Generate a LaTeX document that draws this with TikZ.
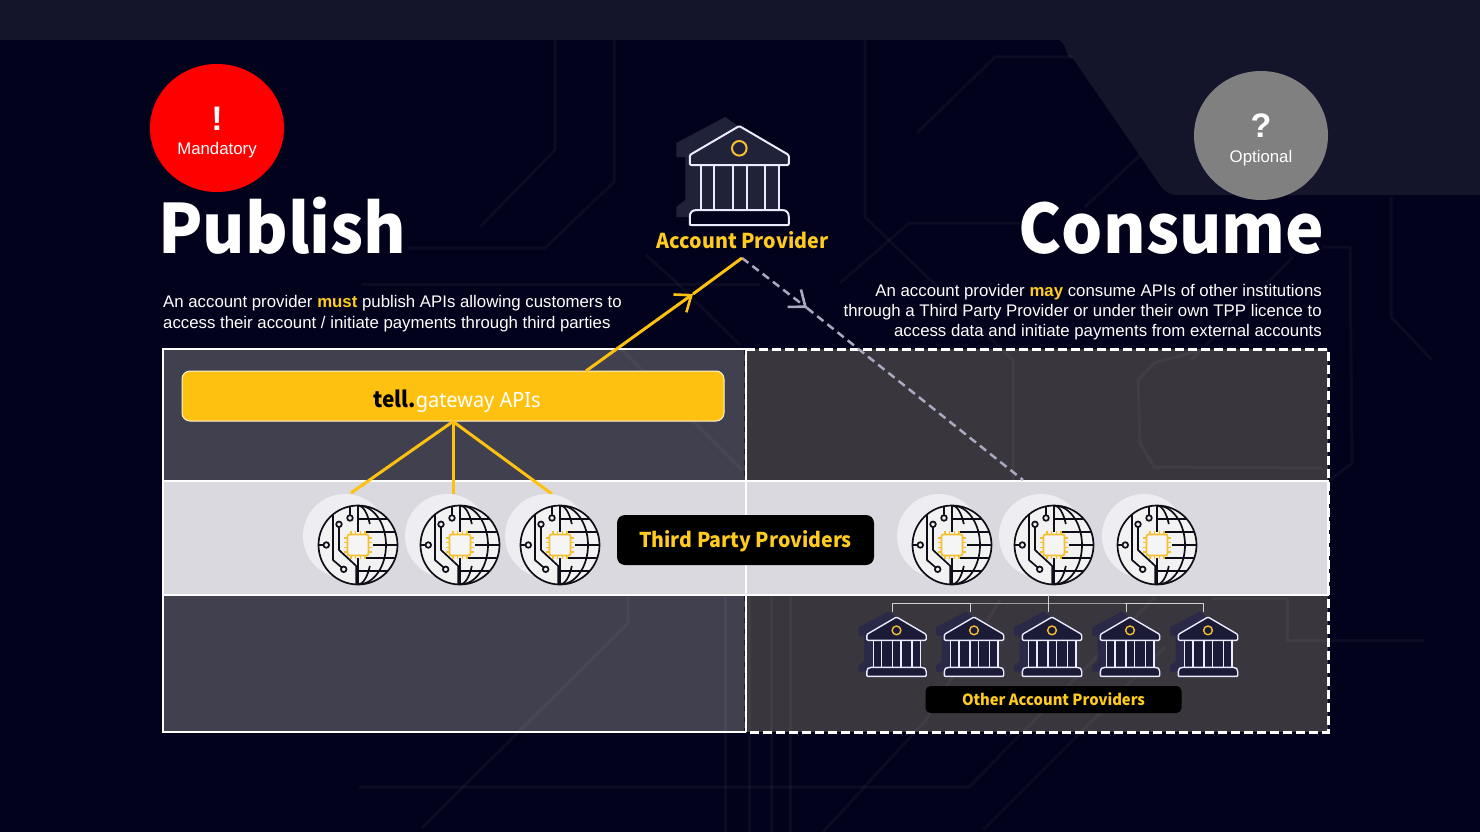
\documentclass[tikz,border=0pt]{standalone}
\usepackage{graphicx}
\usepackage{fontspec}
\setmainfont{Liberation Sans}
\newfontfamily\headfont{Noto Sans CJK JP}
\newfontfamily\brandfont{Noto Sans}
\usetikzlibrary{arrows.meta,calc,shapes.geometric}
\definecolor{bgc}{HTML}{02021C}
\definecolor{bandtop}{HTML}{14152A}
\definecolor{panelL}{HTML}{40404F}
\definecolor{panelR}{HTML}{3A363D}
\definecolor{strip}{HTML}{DAD9DF}
\definecolor{gold}{HTML}{FFC110}
\definecolor{goldtxt}{HTML}{FFCB1F}
\definecolor{dashgrey}{HTML}{A9A9C0}
\definecolor{bankshade}{HTML}{20223A}
\definecolor{bankshadeb}{HTML}{2A2A48}
\definecolor{bankfillb}{HTML}{1B1B38}
\definecolor{inkc}{HTML}{0E0E18}
\definecolor{chipc}{HTML}{F5C02E}
\definecolor{halo}{HTML}{EEEEF2}
\definecolor{panelrule}{HTML}{16162A}
\tikzset{
  trace/.style={draw=white,opacity=.04,line width=3,line join=round},
  goldline/.style={draw=gold,line width=3},
  dashline/.style={draw=dashgrey,line width=2.5,dash pattern=on 8pt off 5pt},
  barb/.style={-{Straight Barb[length=14pt,width=22pt,line width=2.6pt]}},
  badge/.style={ellipse,inner sep=0,text=white},
  lab/.style={inner sep=0,anchor=base,text=white},
  linew/.style={inner sep=0,anchor=base west,text=white},
  linee/.style={inner sep=0,anchor=base east,text=white},
  darkbox/.style={fill=black,rounded corners=8pt,inner sep=0,text=goldtxt},
  orgline/.style={draw=white!82!black,line width=1},
  ink/.style={draw=inkc,line width=1.7},
}
\newcommand{\bankicon}[7]{% x, y(apex), scale, width, shade, roof fill, base fill
  \begin{scope}[shift={(#1,#2)},scale=#3]
    \fill[#5] (-14,-9) -- (-63,17) -- (-63,31) -- (-54,31) -- (-54,74) -- (-63,81) -- (-63,91) -- (36,91) -- (36,27) -- cycle;
    \begin{scope}[draw=white!92!blue,line width=#4,line join=round]
      \fill[#6] (-39,39) rectangle (39.7,84);
      \filldraw[fill=#6,rounded corners=1.2] (-49.5,39) -- (-49.5,29) -- (0,0) -- (49.5,29) -- (49.5,39) -- cycle;
      \foreach \cx in {-38.7,-25.3,-6.7,7.3,26,39.7}{\draw (\cx,39) -- (\cx,84);}
      \filldraw[fill=#7] (-49.5,97.5) .. controls (-49.5,99) and (-49.5,99) .. (-48,99) -- (48,99) .. controls (49.5,99) and (49.5,99) .. (49.5,97.5) -- (49.5,91) .. controls (49.5,86) and (47,84) .. (42,84) -- (-42,84) .. controls (-47,84) and (-49.5,86) .. (-49.5,91) -- cycle;
      \draw[chipc] (0,22.3) circle (7.3);
    \end{scope}
  \end{scope}}
\newcommand{\globeicon}[2]{%
  \begin{scope}[shift={(#1,#2)}]
    \fill[halo] (-13,-9) circle (42);
    \fill[black!5] (0,0) circle (39.5);
    \begin{scope}
      \clip (0,0) circle (39.5);
      \draw[ink] (0,-39) -- (0,-13) (0,13) -- (0,39);
      \draw[ink] (0,-39.5) arc[start angle=-90,end angle=-32,x radius=14,y radius=39.5];
      \draw[ink] (0,39.5) arc[start angle=90,end angle=32,x radius=14,y radius=39.5];
      \draw[ink] (0,-39.5) arc[start angle=-90,end angle=90,x radius=28,y radius=39.5];
      \draw[ink] (0,-25.7) -- (36,-25.7) (8,-13) -- (39,-13) (15,0) -- (40,0) (8,13) -- (39,13) (0,25.7) -- (36,25.7);
      \draw[ink] (-39.5,0) -- (-34.5,0);
      \draw[ink] (-8,-39) -- (-8,-30);
      \draw[ink,line join=round] (-25,-30) -- (-25,15) -- (-16.2,22.6);
      \draw[ink,line join=round] (-19,-18) -- (-19,5) -- (-1.7,21) -- (-1.7,39);
    \end{scope}
    \draw[ink] (-31.7,0) circle (2.8) (-8,-27) circle (2.8) (-19,-20.7) circle (2.8) (-14.3,24.3) circle (2.8);
    \draw[ink] (0,0) circle (39.5);
    \draw[chipc,line width=1.2] \foreach \pp in {-7,-2.4,2.4,7}{(\pp,-14) -- (\pp,-10) (\pp,10) -- (\pp,14) (-14,\pp) -- (-10,\pp) (10,\pp) -- (14,\pp)};
    \filldraw[draw=chipc,fill=white!96!black,line width=1.8,rounded corners=2] (-10.5,-10.5) rectangle (10.5,10.5);
  \end{scope}}
\begin{document}
\begin{tikzpicture}[x=1pt,y=-1pt]
\useasboundingbox (0,0) rectangle (1480,832);
\fill[bgc] (0,0) rectangle (1480,832);
\fill[bandtop] (0,0) -- (1480,0) -- (1480,195) -- (1177,195) to[out=180,in=-55] (1160,185) -- (1072,57) to[out=-125,in=0] (1058,40) -- (0,40) -- cycle;

% panels
\fill[panelL] (163,349) rectangle (746,732);
\fill[panelR] (746,349) rectangle (1328,732);
\filldraw[fill=strip,draw=white!92!strip,line width=2] (163,481) rectangle (1328,595);

% background circuit traces
\draw[trace] (555,40) -- (555,150) -- (480,227);
\draw[trace] (614,40) -- (614,182) -- (545,248) -- (408,248);
\draw[trace] (362,284) -- (677,284) -- (760,284);
\draw[trace] (646,255) -- (677,283) -- (740,345);
\draw[trace] (622,350) -- (742,470);
\draw[trace] (865,40) -- (865,217) -- (1013,360) -- (1013,480);
\draw[trace] (917,133) -- (995,57) -- (1073,57);
\draw[trace] (840,283) -- (909,223) -- (1020,223);
\draw[trace] (1085,207) -- (1140,155);
\draw[trace] (1322,247) -- (1350,247) -- (1352,463) -- (1330,480);
\draw[trace] (1391,197) -- (1391,317) -- (1432,360);
\draw[trace] (1293,257) -- (1191,360);
\draw[trace] (1201,350) -- (1154,363) -- (1138,380) -- (1140,443) -- (1154,467) -- (1322,468);
\draw[trace] (359,787) -- (969,787) -- (1155,597);
\draw[trace] (823,832) -- (926,720) -- (1000,600);
\draw[trace] (983,830) -- (1080,733) -- (1165,647);
\draw[trace] (1212,598) -- (1287,598) -- (1287,640) -- (1424,640);
\draw[trace] (628,595) -- (628,623) -- (422,828);
\draw[trace] (725,595) -- (725,832);
\draw[trace] (749,595) -- (749,832);
\draw[trace] (771,595) -- (771,832);
\draw[trace] (790,595) -- (790,832);

% panel borders
\draw[white,line width=2.5] (746,349) -- (163,349) -- (163,732) -- (746,732);
\draw[white,line width=2.5] (746,349) -- (746,732);
\draw[panelrule,line width=1,dash pattern=on 5pt off 6pt] (744.3,350) -- (744.3,480) (744.3,596) -- (744.3,731);
\draw[white,line width=3,dash pattern=on 9pt off 4pt] (746,349) -- (1328,349) -- (1328,732) -- (746,732);
\draw[white!92!strip,line width=2] (163,481) -- (1328,481) (163,595) -- (1328,595) (1328,481) -- (1328,595);

% gateway
\node[draw=white!85!gold,fill=gold,rounded corners=8pt,line width=1,minimum width=542,minimum height=50,inner sep=0] (gateway) at (453,396) {};
\node[lab] (gatewaytext) at (457,407) {\scalebox{.95}[1]{{\headfont\fontsize{22}{24}\selectfont\bfseries\color{black}tell.}{\brandfont\fontsize{21}{24}\selectfont gateway APIs}}};

% named connector ends
\coordinate (g1top) at (351,493);
\coordinate (g2top) at (453,494);
\coordinate (g3top) at (552,494);
\coordinate (gwexit) at (586,371);
\coordinate (apex) at (742,258);
\coordinate (uptip) at (693,294);
\coordinate (downtip) at (807,308);
\coordinate (tppend) at (1023,480);

\draw[goldline] (gateway.south) -- (g1top);
\draw[goldline] (gateway.south) -- (g2top);
\draw[goldline] (gateway.south) -- (g3top);
\draw[dashline] (apex) -- (downtip);
\draw[dashline] (downtip) -- (tppend);
\draw[draw=dashgrey,line width=2.5,barb] ($(downtip)!3pt!(apex)$) -- (downtip);
\draw[goldline,barb] (gwexit) -- (uptip);
\draw[goldline] (uptip) -- (apex);

% globes
\foreach \gx in {358,460,560,952,1054,1157}{\globeicon{\gx}{545}}

% third party label
\node[darkbox,minimum width=257,minimum height=50] (tpp) at (745.5,540) {};
\node[lab,text=goldtxt] (tpptext) at (745.5,547) {\scalebox{.96}[1]{\headfont\bfseries\fontsize{20.4}{24}\selectfont Third Party Providers}};

% org tree
\coordinate (orgtop) at (1048,595);
\coordinate (orgjoin) at (1048,603);
\coordinate (o1) at (892,612);
\coordinate (o2) at (970,612);
\coordinate (o3) at (1048,612);
\coordinate (o4) at (1126,612);
\coordinate (o5) at (1203,612);
\draw[orgline] (orgtop) -- (o3);
\draw[orgline] (o1) |- (orgjoin) -| (o5);
\draw[orgline] (o2) -- (o2 |- orgjoin);
\draw[orgline] (o4) -- (o4 |- orgjoin);

% banks
\bankicon{739.3}{126}{1}{2}{bankshade}{bankshade}{bgc}
\foreach \bx in {896.5,974,1052,1130,1208}{\bankicon{\bx}{617}{.6}{1.4}{bankshadeb}{bankfillb}{bankfillb}}

\node[darkbox,rounded corners=5pt,minimum width=256,minimum height=27] (others) at (1053.5,699.5) {};
\node[lab,text=goldtxt] (otherstext) at (1053.5,705.5) {\scalebox{.96}[1]{\headfont\bfseries\fontsize{15.4}{18}\selectfont Other Account Providers}};
\node[lab,text=goldtxt] (aptext) at (742.5,248) {\scalebox{.96}[1]{\headfont\bfseries\fontsize{20.5}{24}\selectfont Account Provider}};

% badges
\node[badge,fill=red,minimum width=134,minimum height=128] (mand) at (217,128) {};
\node[lab] (mandmark) at (217,131) {\bfseries\fontsize{34}{36}\selectfont !};
\node[lab] (mandtext) at (217,154) {\fontsize{16.8}{20}\selectfont Mandatory};
\node[badge,fill=white!50!black,minimum width=134,minimum height=129] (opt) at (1261,135.5) {};
\node[lab] (optmark) at (1261,138) {\bfseries\fontsize{34}{36}\selectfont ?};
\node[lab] (opttext) at (1261,162) {\fontsize{16.8}{20}\selectfont Optional};

% headings
\node[linew] (pub) at (158,253) {\scalebox{.955}[1]{\headfont\bfseries\fontsize{68}{72}\selectfont Publish}};
\node[linee] (con) at (1324.5,253) {\scalebox{.955}[1]{\headfont\bfseries\fontsize{68}{72}\selectfont Consume}};

% body text
\node[linew] (pl1) at (163,307) {\fontsize{16.8}{20}\selectfont An account provider {\bfseries\color{goldtxt}must} publish APIs allowing customers to};
\node[linew] (pl2) at (163,328) {\fontsize{16.8}{20}\selectfont access their account / initiate payments through third parties};
\node[linee] (cl1) at (1322,296) {\fontsize{16.8}{20}\selectfont An account provider {\bfseries\color{goldtxt}may} consume APIs of other institutions};
\node[linee] (cl2) at (1322,316.5) {\fontsize{16.8}{20}\selectfont through a Third Party Provider or under their own TPP licence to};
\node[linee] (cl3) at (1322,336.5) {\fontsize{16.8}{20}\selectfont access data and initiate payments from external accounts};
\end{tikzpicture}
\end{document}
